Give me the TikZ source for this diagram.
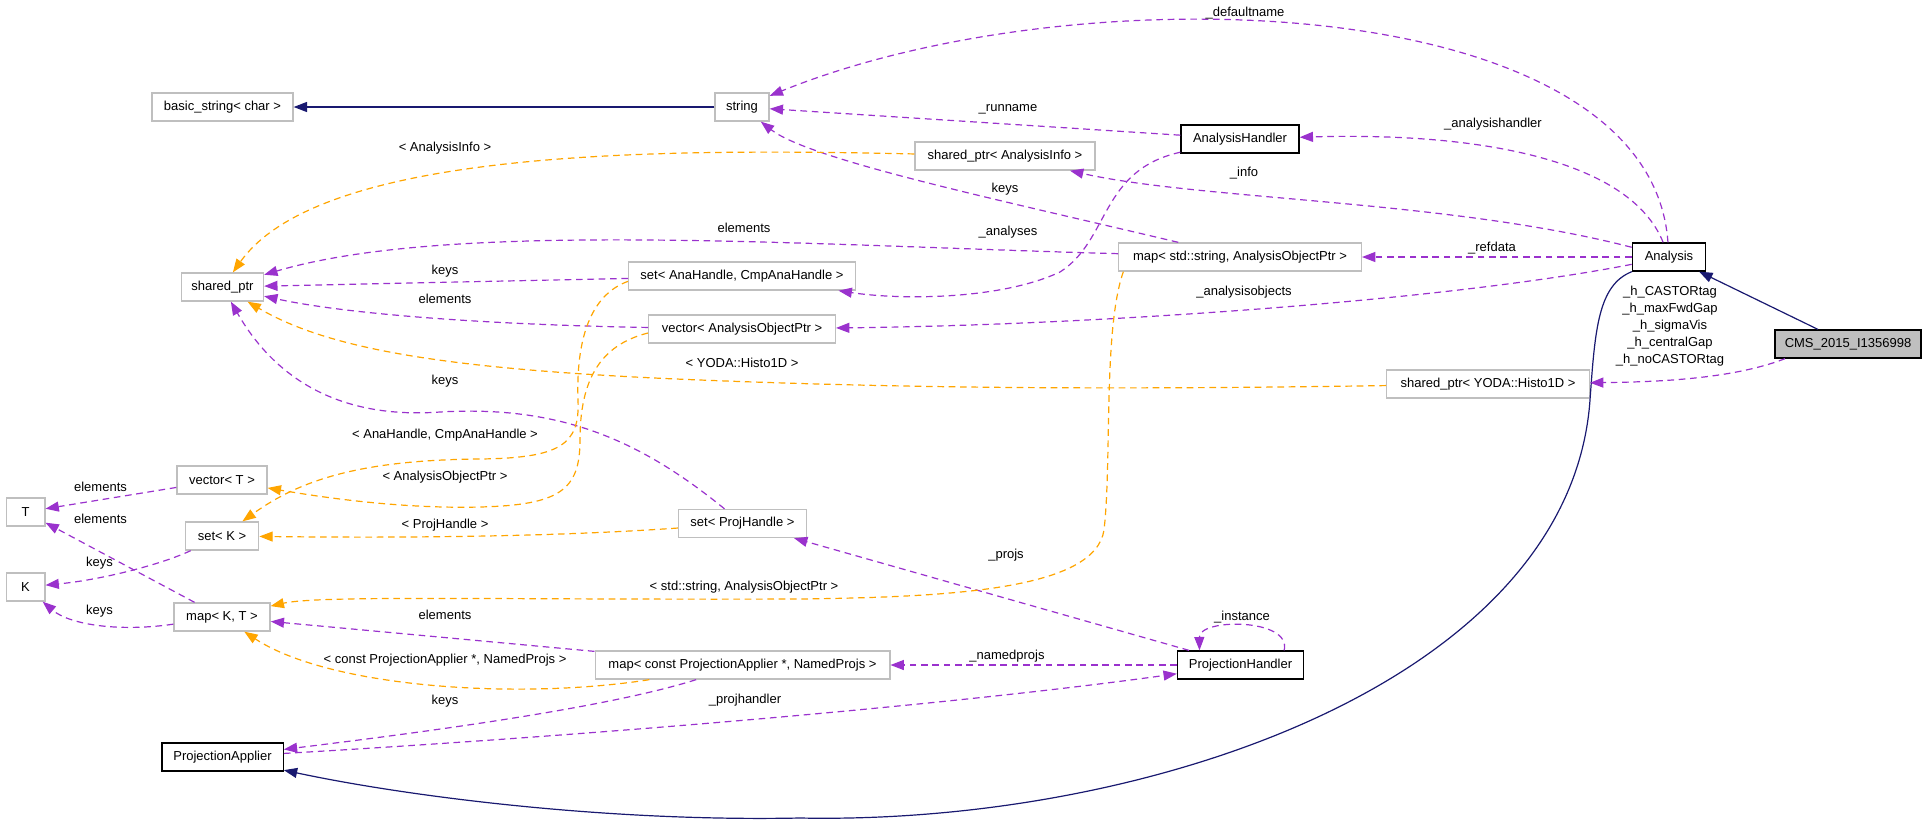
\documentclass[tikz,border=0pt]{standalone}
\usepackage{fontspec}
\setmainfont{Liberation Sans}
\usetikzlibrary{arrows.meta}
\definecolor{edgenavy}{RGB}{25,25,112}
\definecolor{edgepurple}{RGB}{154,50,205}
\definecolor{edgeorange}{RGB}{255,165,0}
\definecolor{boxgray}{RGB}{191,191,191}

\begin{document}
\begin{tikzpicture}[x=0.75pt,y=-0.75pt,
  every node/.style={font=\fontsize{9.75}{12.75}\selectfont},
  cls/.style={draw=boxgray,line width=1pt,minimum height=21pt,inner xsep=3pt,inner ysep=0pt},
  doc/.style={cls,draw=black},
  lbl/.style={inner sep=0pt},
  inh/.style={edgenavy,line width=0.9pt,-{Triangle[length=10pt,width=7.5pt]}},
  use/.style={edgepurple,line width=0.9pt,dash pattern=on 5pt off 3.5pt,-{Triangle[length=10pt,width=7.5pt]}},
  tpl/.style={edgeorange,line width=0.9pt,dash pattern=on 5pt off 3.5pt,-{Triangle[length=10pt,width=7.5pt]}}]
\useasboundingbox (0,0) rectangle (1923,825);

\node[cls,minimum width=105.75pt] (basicstr) at (222.5,107) {basic\_string< char >};
\node[cls,minimum width=40.5pt] (str) at (742,107) {string};
\node[doc,minimum width=88.5pt] (anahandler) at (1240,139) {AnalysisHandler};
\node[cls,minimum width=135pt] (sptrinfo) at (1005,156) {shared\_ptr< AnalysisInfo >};
\node[cls,minimum width=61.5pt] (sptr) at (222.5,287) {shared\_ptr};
\node[cls,minimum width=182pt] (mapstr) at (1240,257) {map< std::string, AnalysisObjectPtr >};
\node[doc,minimum width=55pt] (analysis) at (1669,257) {Analysis};
\node[cls,minimum width=170pt] (setana) at (742,276) {set< AnaHandle, CmpAnaHandle >};
\node[cls,minimum width=140pt] (vecaop) at (742,329) {vector< AnalysisObjectPtr >};
\node[doc,fill=boxgray,minimum width=109.5pt] (cms) at (1848,344) {CMS\_2015\_I1356998};
\node[cls,minimum width=152pt] (sptryoda) at (1488,384) {shared\_ptr< YODA::Histo1D >};
\node[cls,minimum width=67.5pt] (vect) at (222,480) {vector< T >};
\node[cls,minimum width=29pt] (tt) at (25.5,512) {T};
\node[cls,minimum width=55pt] (setk) at (222,536) {set< K >};
\node[cls,minimum width=96pt] (setproj) at (742.5,523.5) {set< ProjHandle >};
\node[cls,minimum width=29pt] (kk) at (25.5,587) {K};
\node[cls,minimum width=72pt] (mapkt) at (222,617) {map< K, T >};
\node[cls,minimum width=221pt] (mapnamed) at (742.5,665) {map< const ProjectionApplier *, NamedProjs >};
\node[doc,minimum width=94.5pt] (projhandler) at (1240.5,665) {ProjectionHandler};
\node[doc,minimum width=91pt] (projapplier) at (222.5,757) {ProjectionApplier};

\draw[inh] (str) -- (basicstr);
\draw[inh] (cms) -- (analysis);
\draw[inh] (analysis) .. controls (1598,285) and (1595,330) .. (1590,400)
  .. controls (1570,680) and (1150,825) .. (800,818)
  .. controls (600,822) and (400,795) .. (projapplier);

\draw[use] (analysis) .. controls (1650,-10) and (1080,-30) .. (str);
\draw[use] (anahandler) -- (str);
\draw[use] (mapstr) .. controls (1000,200) and (810,160) .. (str);
\draw[use] (analysis) .. controls (1630,160) and (1480,132) .. (anahandler);
\draw[use] (analysis) .. controls (1450,200) and (1200,200) .. (sptrinfo);
\draw[use] (mapstr) .. controls (800,245) and (450,220) .. (sptr);
\draw[use] (setana) -- (sptr);
\draw[use] (vecaop) .. controls (500,325) and (350,315) .. (sptr);
\draw[use] (setproj) .. controls (640,440) and (560,405) .. (440,412)
  .. controls (330,420) and (270,370) .. (sptr);
\draw[use] (analysis) -- (mapstr);
\draw[use] (analysis) .. controls (1450,300) and (1100,325) .. (vecaop);
\draw[use] (anahandler) .. controls (1100,170) and (1110,240) .. (1060,272)
  .. controls (1000,300) and (900,300) .. (setana);
\draw[use] ([xshift=8pt]cms.south west) .. controls (1730,380) and (1650,382) .. (sptryoda);
\draw[use] (projhandler) -- (setproj);
\draw[use] ([xshift=-15pt]projhandler.north east) .. controls (1292,618) and (1199,618) .. ([xshift=17pt]projhandler.north west);
\draw[use] (projhandler) -- (mapnamed);
\draw[use] (projapplier) .. controls (600,735) and (950,705) .. (projhandler);
\draw[use] (mapnamed) .. controls (600,710) and (400,735) .. (projapplier);
\draw[use] (mapnamed) -- (mapkt);
\draw[use] (mapkt) -- (tt);
\draw[use] (mapkt) .. controls (120,632) and (70,625) .. (kk);
\draw[use] (setk) .. controls (160,565) and (100,580) .. (kk);
\draw[use] (vect) -- (tt);

\draw[tpl] (sptrinfo) .. controls (650,148) and (320,150) .. (sptr);
\draw[tpl] ([xshift=4pt]mapstr.south west) .. controls (1103,330) and (1112,460) .. (1104,530)
  .. controls (1095,590) and (950,597) .. (800,599)
  .. controls (500,600) and (320,595) .. (mapkt);
\draw[tpl] ([yshift=-4pt]setana.west) .. controls (590,295) and (576,340) .. (578,400)
  .. controls (580,445) and (560,458) .. (480,459)
  .. controls (360,460) and (300,480) .. (setk);
\draw[tpl] ([yshift=-3pt]vecaop.west) .. controls (600,345) and (580,380) .. (580,440)
  .. controls (580,490) and (560,505) .. (480,507)
  .. controls (400,509) and (320,497) .. (vect);
\draw[tpl] (setproj) .. controls (550,537) and (400,538) .. (setk);
\draw[tpl] (sptryoda) .. controls (1100,390) and (900,388) .. (700,380)
  .. controls (450,370) and (330,350) .. (sptr);
\draw[tpl] (mapnamed) .. controls (520,700) and (330,688) .. (mapkt);

\node[lbl] (ldefname) at (1245,13) {\_defaultname};
\node[lbl] (lrunname) at (1008,109) {\_runname};
\node[lbl] (lanahandler) at (1493,124) {\_analysishandler};
\node[lbl] (linfotpl) at (445,148) {< AnalysisInfo >};
\node[lbl] (linfo) at (1244,173) {\_info};
\node[lbl] (lkeysstr) at (1005,189) {keys};
\node[lbl] (lelemstr) at (744,228) {elements};
\node[lbl] (lanalyses) at (1008,232) {\_analyses};
\node[lbl] (lrefdata) at (1492,248) {\_refdata};
\node[lbl] (lkeysana) at (445,271) {keys};
\node[lbl] (lanaobj) at (1244,292) {\_analysisobjects};
\node[lbl] (lelemaop) at (445,299) {elements};
\node[lbl,align=center] (lhistos) at (1670,326.5) {\_h\_CASTORtag\\\_h\_maxFwdGap\\\_h\_sigmaVis\\\_h\_centralGap\\\_h\_noCASTORtag};
\node[lbl] (lyodatpl) at (742,363) {< YODA::Histo1D >};
\node[lbl] (lkeysproj) at (445,381) {keys};
\node[lbl] (lanatpl) at (445,435) {< AnaHandle, CmpAnaHandle >};
\node[lbl] (laoptpl) at (445,477) {< AnalysisObjectPtr >};
\node[lbl] (lelemvt) at (100.5,487) {elements};
\node[lbl] (lelemmkt) at (100.5,519) {elements};
\node[lbl] (lprojtpl) at (445,525) {< ProjHandle >};
\node[lbl] (lprojs) at (1006,555) {\_projs};
\node[lbl] (lkeyssk) at (99.5,563) {keys};
\node[lbl] (lstrtpl) at (744,587) {< std::string, AnalysisObjectPtr >};
\node[lbl] (lkeysmkt) at (99.5,611) {keys};
\node[lbl] (lelemnamed) at (445,615) {elements};
\node[lbl] (linstance) at (1242,617) {\_instance};
\node[lbl] (lnamedprojs) at (1007,656) {\_namedprojs};
\node[lbl] (lnamedtpl) at (445,660) {< const ProjectionApplier *, NamedProjs >};
\node[lbl] (lprojhandler) at (745,700) {\_projhandler};
\node[lbl] (lkeysnamed) at (445,701) {keys};
\end{tikzpicture}
\end{document}
